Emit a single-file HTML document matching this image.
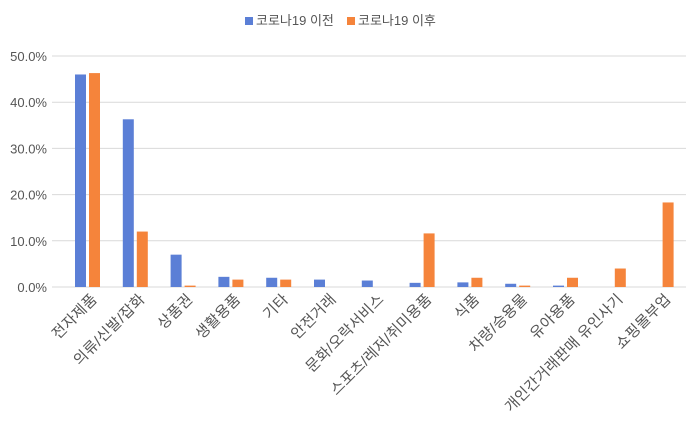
<!DOCTYPE html>
<html><head><meta charset="utf-8"><style>
body{margin:0;background:#fff;font-family:"Liberation Sans","Noto Sans CJK KR",sans-serif;}
svg text{font-family:"Liberation Sans","Noto Sans CJK KR",sans-serif;}
</style></head><body>
<svg id="chart" width="692" height="432" xmlns="http://www.w3.org/2000/svg">
<g id="legend">
 <rect x="245" y="17" width="8" height="8" fill="#5b7fd6"/>
 <text x="256" y="25" font-size="13" fill="#555">코로나19 이전</text>
 <rect x="347" y="17" width="8" height="8" fill="#f5843b"/>
 <text x="358" y="25" font-size="13" fill="#555">코로나19 이후</text>
</g>
<g id="grid"></g><g id="bars"></g><g id="labels"></g>
</svg>
<script>
const categories=["전자제품","의류/신발/잡화","상품권","생활용품","기타","안전거래","문화/오락서비스","스포츠/레저/취미용품","식품","차량/승용물","유아용품","개인간거래판매 유인사기","쇼핑몰부업"];
const before=[46.0,36.3,7.0,2.2,2.0,1.6,1.4,0.9,1.0,0.7,0.3,0,0];
const after=[46.3,12.0,0.3,1.6,1.6,0,0,11.6,2.0,0.3,2.0,4.0,18.3];
const yTicks=[0,10,20,30,40,50];
const NS="http://www.w3.org/2000/svg";
const y0=287,yTop=56,yMax=50;
const y=v=>y0-(v/yMax)*(y0-yTop);
const x=i=>88+i*47.8;
function mk(tag,attrs,parent){const e=document.createElementNS(NS,tag);for(const k in attrs)e.setAttribute(k,attrs[k]);parent.appendChild(e);return e;}
const grid=document.getElementById('grid'),bars=document.getElementById('bars'),labels=document.getElementById('labels');
yTicks.forEach(t=>{
 const l=mk('line',{x1:52,x2:686,y1:y(t),y2:y(t),stroke:'#d9d9d9','stroke-width':1},grid);
 
 
 const tx=mk('text',{x:47,y:y(t)+5,'font-size':13,fill:'#555','text-anchor':'end'},grid);
 tx.textContent=t.toFixed(1)+'%';
 
 
});
categories.forEach((c,i)=>{
 const b=mk('rect',{x:x(i)-13,y:y(before[i]),width:11,height:y0-y(before[i]),fill:'#5b7fd6'},bars);
 
 
 const a=mk('rect',{x:x(i)+1,y:y(after[i]),width:11,height:y0-y(after[i]),fill:'#f5843b'},bars);
 
 
 const t=mk('text',{x:0,y:0,'font-size':15,'letter-spacing':'0.3',fill:'#555','text-anchor':'end',transform:`translate(${x(i)+10},${300}) rotate(-45)`},labels);
 t.textContent=c;
 
 
});
</script>
</body></html>
